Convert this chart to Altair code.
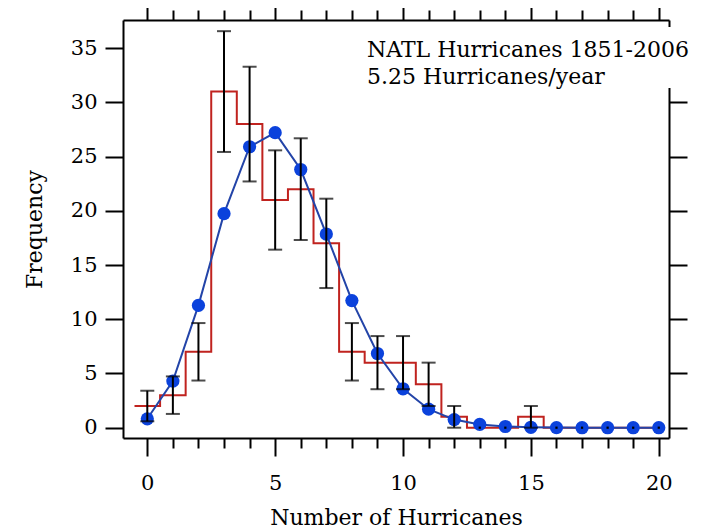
import altair as alt
import pandas as pd

# ---- data ----
hurricanes = list(range(21))
observed = [2, 3, 7, 31, 28, 21, 22, 17, 7, 6, 6, 4, 1, 0, 0, 1, 0, 0, 0, 0, 0]
expected = [0.82, 4.30, 11.28, 19.74, 25.91, 27.21, 23.81, 17.86, 11.72, 6.84,
            3.59, 1.71, 0.75, 0.30, 0.11, 0.04, 0.01, 0.0, 0.0, 0.0, 0.0]
err_low = [0.59, 1.27, 4.35, 25.43, 22.71, 16.42, 17.31, 12.88, 4.35, 3.55,
           3.55, 2.0, 0.0, 0.0, 0.0, 0.0, 0.0, 0.0, 0.0, 0.0, 0.0]
err_high = [3.41, 4.73, 9.65, 36.57, 33.29, 25.58, 26.69, 21.12, 9.65, 8.45,
            8.45, 6.0, 2.0, 0.0, 0.0, 2.0, 0.0, 0.0, 0.0, 0.0, 0.0]
x_ticks = list(range(21))
y_ticks = [0, 5, 10, 15, 20, 25, 30, 35]
annotation = ["NATL Hurricanes 1851-2006", "5.25 Hurricanes/year"]

FONT = "DejaVu Serif"
RED = "#c0231f"
BLUE_LINE = "#2344a8"
BLUE_PT = "#0b42dc"
X_DOMAIN = [-0.95, 20.4]
Y_DOMAIN = [-0.95, 37.6]

df = pd.DataFrame({"x": hurricanes, "obs": observed, "expected": expected,
                   "lo": err_low, "hi": err_high})
step_df = pd.DataFrame({
    "edge": [v - 0.5 for v in hurricanes] + [hurricanes[-1]],
    "count": observed + [observed[-1]],
})
one_row = pd.DataFrame({"k": [0]})

major = "datum.value % 5 === 0"
minor_major_size = {"condition": {"test": major, "value": 18}, "value": 10}
xs = alt.Scale(domain=X_DOMAIN, nice=False, zero=False)
ys = alt.Scale(domain=Y_DOMAIN, nice=False, zero=False)

common = dict(domainColor="black", domainWidth=2, tickColor="black", tickWidth=2,
              grid=False, labelFont=FONT, labelColor="black", titleFont=FONT,
              titleColor="black", titleFontWeight="normal")

x_bottom = alt.Axis(orient="bottom", values=x_ticks, tickSize=minor_major_size,
                    labelExpr=f"{major} ? datum.label : ''", labelFontSize=21,
                    labelPadding=16, labelFlush=False, labelOverlap=False,
                    title="Number of Hurricanes", titleFontSize=22, titlePadding=14,
                    **common)
y_left = alt.Axis(orient="left", values=y_ticks, tickSize=18, labelFontSize=21,
                  labelPadding=8, labelOverlap=False, title="Frequency",
                  titleFontSize=22, titlePadding=24, **common)
x_top = alt.Axis(orient="top", values=x_ticks, tickSize=minor_major_size,
                 labels=False, title="", **common)
y_right = alt.Axis(orient="right", values=y_ticks, tickSize=18, labels=False,
                   title="", **common)

X = alt.X("x:Q", scale=xs, axis=x_bottom)

red = alt.Chart(step_df).mark_line(interpolate="step-after", color=RED, strokeWidth=2).encode(
    x=alt.X("edge:Q", scale=xs, axis=x_bottom),
    y=alt.Y("count:Q", scale=ys, axis=y_left),
)
blue_line = alt.Chart(df).mark_line(color=BLUE_LINE, strokeWidth=2).encode(
    x=X, y=alt.Y("expected:Q", scale=ys, axis=y_left))
blue_pts = alt.Chart(df).mark_circle(size=175, color=BLUE_PT, opacity=1).encode(
    x=X, y=alt.Y("expected:Q", scale=ys, axis=y_left))
err = alt.Chart(df).transform_filter("datum.obs > 0").mark_rule(color="black", strokeWidth=2).encode(
    x=X, y=alt.Y("lo:Q", scale=ys, axis=y_left), y2="hi:Q")
cap_lo = alt.Chart(df).transform_filter("datum.obs > 0").mark_tick(
    orient="horizontal", size=14, thickness=2, color="black").encode(
    x=X, y=alt.Y("lo:Q", scale=ys, axis=y_left))
cap_hi = alt.Chart(df).transform_filter("datum.obs > 0").mark_tick(
    orient="horizontal", size=14, thickness=2, color="black").encode(
    x=X, y=alt.Y("hi:Q", scale=ys, axis=y_left))
zero_dots = alt.Chart(df).transform_filter("datum.obs == 0").mark_square(
    size=5, color="black", opacity=1).encode(
    x=X, y=alt.Y("obs:Q", scale=ys, axis=y_left))

box = alt.Chart(one_row).mark_rect(color="white").encode(
    x=alt.value(236), x2=alt.value(574), y=alt.value(7), y2=alt.value(68))
label = alt.Chart(one_row).mark_text(
    align="left", baseline="alphabetic", font=FONT, fontSize=22, lineHeight=27,
    color="black", text=annotation).encode(x=alt.value(244), y=alt.value(37))

data_layer = alt.layer(red, blue_line, blue_pts, err, cap_lo, cap_hi, zero_dots, box, label)

frame_layer = alt.Chart(df).mark_point(opacity=0).encode(
    x=alt.X("x:Q", scale=xs, axis=x_top),
    y=alt.Y("expected:Q", scale=ys, axis=y_right),
)

chart = alt.layer(data_layer, frame_layer).resolve_scale(
    x="independent", y="independent"
).properties(
    width=546, height=418,
    autosize=alt.AutoSizeParams(type="none"),
    padding={"left": 115, "top": 12, "right": 26, "bottom": 92},
).configure_view(stroke="transparent")

chart.save("out.html", embed_options={"renderer": "svg", "actions": False})
